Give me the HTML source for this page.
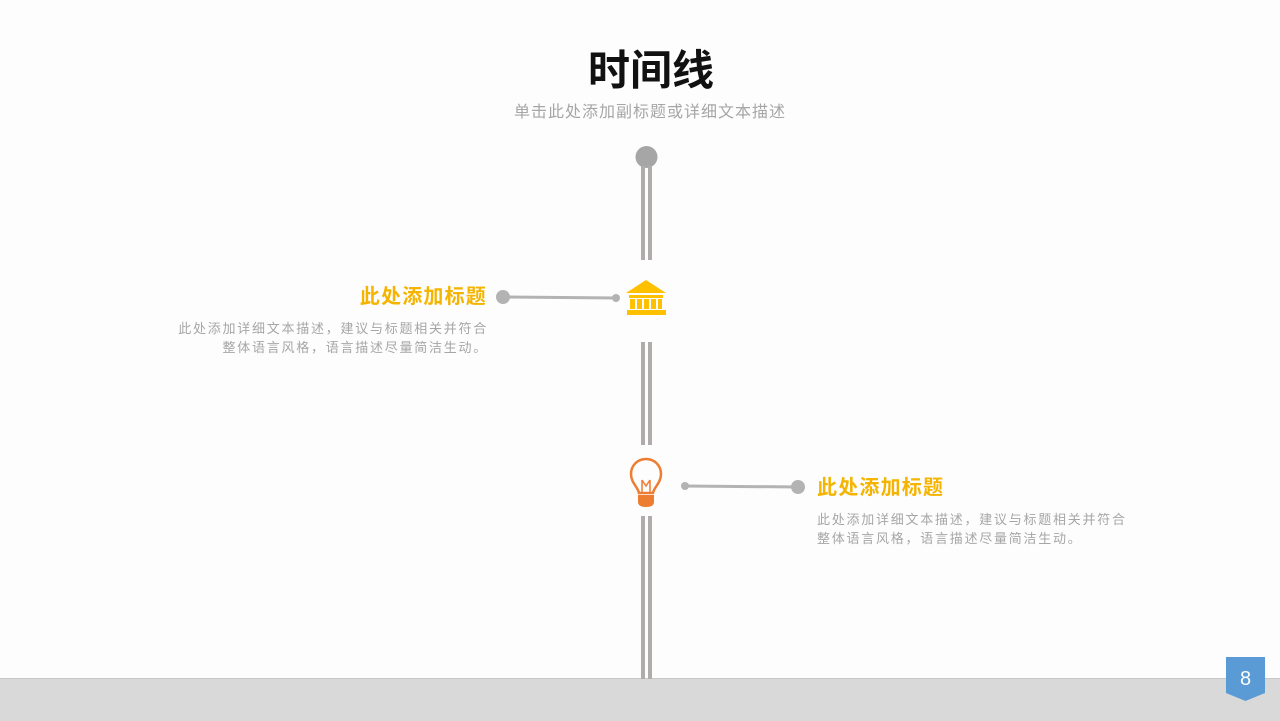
<!DOCTYPE html>
<html><head><meta charset="utf-8"><style>
body{margin:0;width:1280px;height:720px;background:#fdfdfd;position:relative;overflow:hidden;font-family:"Liberation Sans","Noto Sans CJK SC",sans-serif}
.a{position:absolute}
</style></head><body>
<div class="a" style="left:0;top:678px;width:1280px;height:42px;background:#d9d9d9;border-top:1px solid #c8c8c8"></div>
<div class="a" style="left:11px;width:1280px;top:42px;text-align:center;font-size:42px;font-weight:bold;color:#111;line-height:58px">时间线</div>
<div class="a" style="left:0;width:1300px;top:102px;text-align:center;font-size:16px;color:#a6a6a6;line-height:22px;letter-spacing:1px">单击此处添加副标题或详细文本描述</div>
<svg class="a" style="left:0;top:0" width="1280" height="720">
<circle cx="646.5" cy="157" r="11" fill="#a6a6a6"/>
<g fill="#b0acac">
<rect x="641" y="166" width="4" height="94"/><rect x="648" y="166" width="4" height="94"/>
<rect x="641" y="342" width="4" height="103"/><rect x="648" y="342" width="4" height="103"/>
<rect x="641" y="516" width="4" height="163"/><rect x="648" y="516" width="4" height="163"/>
</g>
<line x1="503" y1="297" x2="616" y2="298" stroke="#b3b3b3" stroke-width="3"/>
<circle cx="503" cy="297" r="7" fill="#b3b3b3"/><circle cx="616" cy="298" r="4" fill="#b3b3b3"/>
<line x1="685" y1="486" x2="798" y2="487" stroke="#b3b3b3" stroke-width="3"/>
<circle cx="798" cy="487" r="7" fill="#b3b3b3"/><circle cx="685" cy="486" r="4" fill="#b3b3b3"/>
<g fill="#ffc000">
<polygon points="646,280 666,293 626,293"/>
<rect x="629" y="295" width="34" height="3"/>
<rect x="630" y="299" width="5" height="10"/><rect x="637" y="299" width="5" height="10"/><rect x="644" y="299" width="5" height="10"/><rect x="651" y="299" width="5" height="10"/><rect x="658" y="299" width="4" height="10"/>
<rect x="627" y="310" width="39" height="5"/>
</g>
<g stroke="#ed7d31" fill="none" stroke-width="2.5">
<path d="M639,493 C638,487 631,483 631,474 C631,465 638,459 646,459 C654,459 661,465 661,474 C661,483 654,487 653,493 Z"/>
<path d="M642,493 L642,480 M650,493 L650,480 M642,480 L646,486 L650,480" stroke-width="1.5"/>
</g>
<path d="M638,495 H654 V502 Q654,507 646,507 Q638,507 638,502 Z" fill="#ed7d31"/>
<path d="M1226,657 H1265 V693 L1245.5,701 L1226,693 Z" fill="#5b9bd5"/>
<text x="1245.5" y="685" text-anchor="middle" font-size="20" fill="#fff" font-family="Liberation Sans">8</text>
</svg>
<div class="a" style="left:260px;width:227px;top:284px;text-align:right;font-size:20px;font-weight:bold;color:#f5b400;line-height:26px;letter-spacing:1.2px">此处添加标题</div>
<div class="a" style="left:130px;width:358px;top:319px;text-align:right;font-size:13px;color:#a6a6a6;line-height:19px;letter-spacing:1.75px">此处添加详细文本描述，建议与标题相关并符合<br>整体语言风格，语言描述尽量简洁生动。</div>
<div class="a" style="left:817px;top:475px;font-size:20px;font-weight:bold;color:#f5b400;line-height:26px;letter-spacing:1.2px">此处添加标题</div>
<div class="a" style="left:817px;width:360px;top:510px;font-size:13px;color:#a6a6a6;line-height:19px;letter-spacing:1.75px">此处添加详细文本描述，建议与标题相关并符合<br>整体语言风格，语言描述尽量简洁生动。</div>
</body></html>
